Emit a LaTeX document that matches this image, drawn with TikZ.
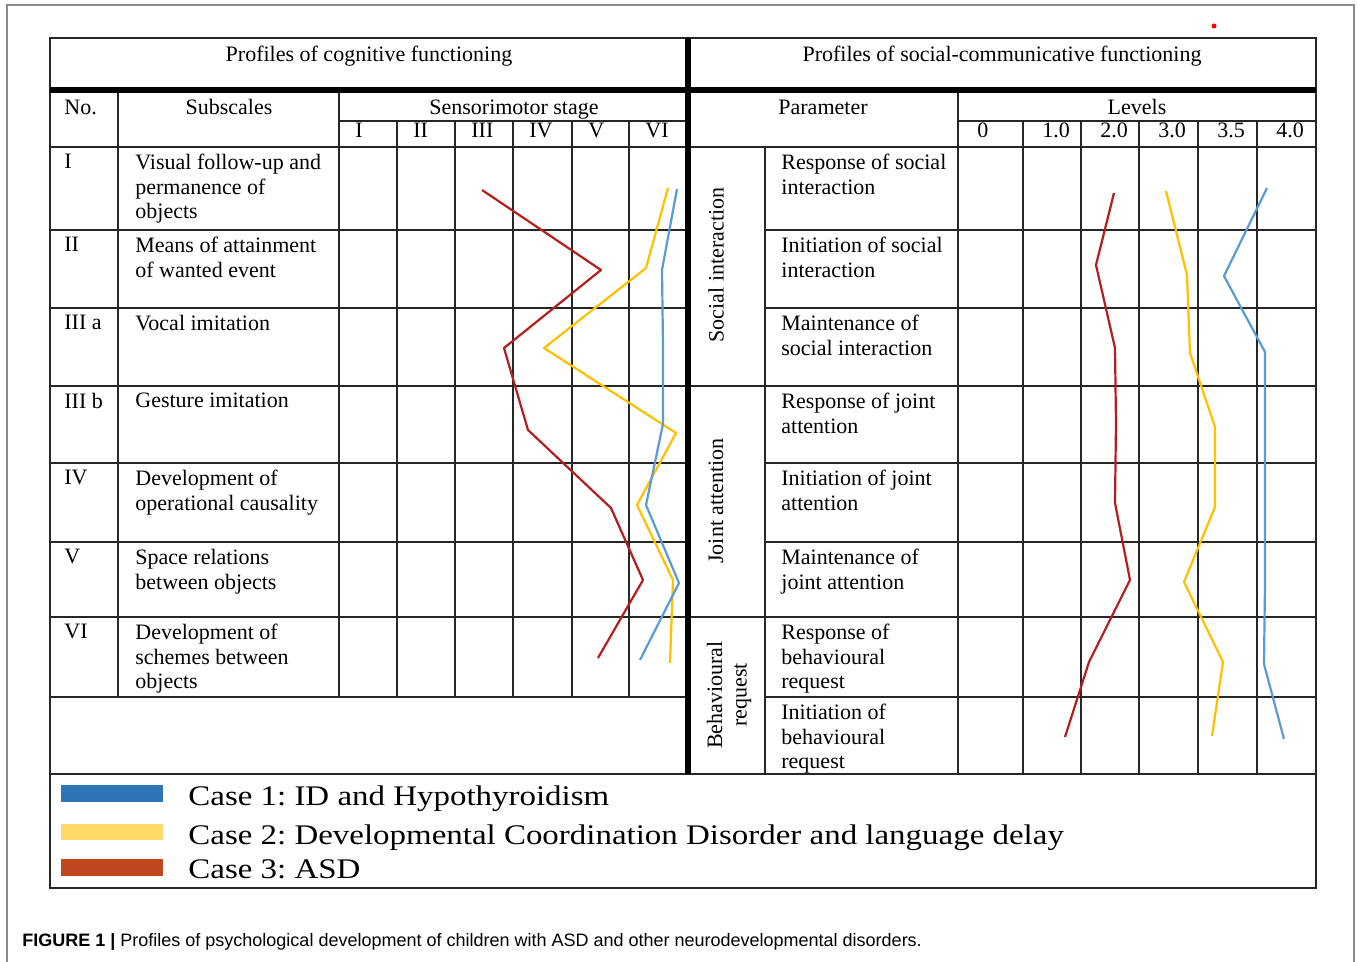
\documentclass[tikz,border=0pt]{standalone}
\usepackage{fontspec}
\setmainfont{Liberation Serif}
\newfontfamily\legendfont{Liberation Serif}[FakeStretch=1.16]
\newfontfamily\captionfont{Liberation Sans}
\newcommand\tablefont{\fontsize{11}{12.25}\selectfont}
\frenchspacing
\definecolor{caseblue}{HTML}{5B9BD5}
\definecolor{caseyellow}{HTML}{FFC000}
\definecolor{casered}{HTML}{B41E1E}
\definecolor{barblue}{HTML}{2E75B6}
\definecolor{baryellow}{HTML}{FFD966}
\definecolor{barred}{HTML}{C0461E}
\definecolor{framegray}{HTML}{8C8C8C}

\begin{document}
\begin{tikzpicture}[x=0.5pt,y=-0.5pt,
    grid/.style={line width=0.6pt,draw=black!85},
    thickrule/.style={line width=2.6pt,draw=black},
    head/.style={anchor=base,inner sep=0pt,font=\tablefont},
    cell/.style={anchor=north west,inner sep=0pt,align=left,font=\tablefont},
    group/.style={rotate=90,inner sep=0pt,align=center,font=\tablefont},
    profile/.style={line width=1.1pt,line join=round},
    key/.style={anchor=base west,inner sep=0pt,font=\legendfont\fontsize{14.2}{16}\selectfont}]
  \useasboundingbox[fill=white] (0,0) rectangle (1357,962);
  \draw[framegray,line width=0.6pt] (7,980) -- (7,5) -- (1354,5) -- (1354,980);
  \fill[red] (1214,26) circle (2.5);

  \draw[grid] (50,38) rectangle (1316,888);
  \draw[grid] (50,774) -- (1316,774);
  \foreach \y in {147,230,308,386,463,542,617,697}
    \draw[grid] (50,\y) -- (688,\y);
  \draw[grid] (688,147) -- (1316,147);
  \foreach \y in {230,308,463,542,697}
    \draw[grid] (765,\y) -- (1316,\y);
  \foreach \y in {386,617}
    \draw[grid] (688,\y) -- (1316,\y);
  \draw[grid] (339,121) -- (688,121) (958,121) -- (1316,121);
  \foreach \x in {118,339}
    \draw[grid] (\x,90) -- (\x,697);
  \foreach \x in {397,455,513,572,629}
    \draw[grid] (\x,121) -- (\x,697);
  \draw[grid] (765,147) -- (765,774) (958,90) -- (958,774);
  \foreach \x in {1023,1081,1139,1198,1257}
    \draw[grid] (\x,121) -- (\x,774);
  \draw[thickrule] (50,90) -- (1316,90) (688,38) -- (688,774);

  \node[head] (cogtitle) at (369,62) {Profiles of cognitive functioning};
  \node[head] (soctitle) at (1002,62) {Profiles of social-communicative functioning};
  \node[head,anchor=base west] (nohead) at (64,115) {No.};
  \node[head] (subhead) at (229,115) {Subscales};
  \node[head] (stagehead) at (514,115) {Sensorimotor stage};
  \node[head] (parhead) at (823,115) {Parameter};
  \node[head] (levhead) at (1137,115) {Levels};
  \foreach \x/\s [count=\i] in {339/I,397/II,455/III,513/IV,572/V,629/VI}
    \node[head,anchor=base west] (stage\i) at (\x+16,138) {\s};
  \foreach \x/\s [count=\i] in {958/0,1023/1.0,1081/2.0,1139/3.0,1198/3.5,1257/4.0}
    \node[head,anchor=base west] (level\i) at (\x+19,138) {\s};

  \foreach \y/\n/\t [count=\i] in {
      147/I/{Visual follow-up and\\permanence of\\objects},
      230/II/{Means of attainment\\of wanted event},
      308/III a/{Vocal imitation},
      386/III b/{Gesture imitation},
      463/IV/{Development of\\operational causality},
      542/V/{Space relations\\between objects},
      617/VI/{Development of\\schemes between\\objects}}{
    \node[cell] (no\i) at (64,\y+7) {\n};
    \node[cell] (sub\i) at (135,\y+7) {\t};
  }
  \foreach \y/\t [count=\i] in {
      147/{Response of social\\interaction},
      230/{Initiation of social\\interaction},
      308/{Maintenance of\\social interaction},
      386/{Response of joint\\attention},
      463/{Initiation of joint\\attention},
      542/{Maintenance of\\joint attention},
      617/{Response of\\behavioural\\request},
      697/{Initiation of\\behavioural\\request}}
    \node[cell] (par\i) at (781,\y+7) {\t};
  \node[group] (grpsocial) at (716,265) {Social interaction};
  \node[group] (grpjoint) at (716,501) {Joint attention};
  \node[group] (grpbehav) at (729,695) {Behavioural\\request};

  \draw[profile,casered] plot coordinates {(482,190) (601,270) (504,348) (528,430)
    (611,508) (643,580) (598,658)};
  \draw[profile,caseyellow] plot coordinates {(668,188) (646,268) (544,348) (676,433)
    (637,505) (673,580) (670,663)};
  \draw[profile,caseblue] plot coordinates {(677,189) (662,270) (663,346) (663,424)
    (646,505) (679,583) (640,660)};
  \draw[profile,casered] plot coordinates {(1114,193) (1096,265) (1115,348) (1116,423)
    (1115,503) (1130,580) (1089,662) (1065,737)};
  \draw[profile,caseyellow] plot coordinates {(1166,191) (1187,275) (1190,353) (1215,427)
    (1215,507) (1184,582) (1223,662) (1212,736)};
  \draw[profile,caseblue] plot coordinates {(1267,188) (1224,276) (1265,352) (1265,427)
    (1265,507) (1265,583) (1264,664) (1284,739)};

  \fill[barblue] (61,785) rectangle (163,802);
  \fill[baryellow] (61,824) rectangle (163,840);
  \fill[barred] (61,859) rectangle (163,876);
  \node[key] (key1) at (188,806) {Case 1: ID and Hypothyroidism};
  \node[key] (key2) at (188,845) {Case 2: Developmental Coordination Disorder and language delay};
  \node[key] (key3) at (188,879) {Case 3: ASD};

  \node[anchor=base west,inner sep=0pt,font=\captionfont\fontsize{9}{11}\selectfont] (caption)
    at (22,947) {\textbf{FIGURE 1 |} Profiles of psychological development of children with ASD and other neurodevelopmental disorders.};
\end{tikzpicture}
\end{document}
